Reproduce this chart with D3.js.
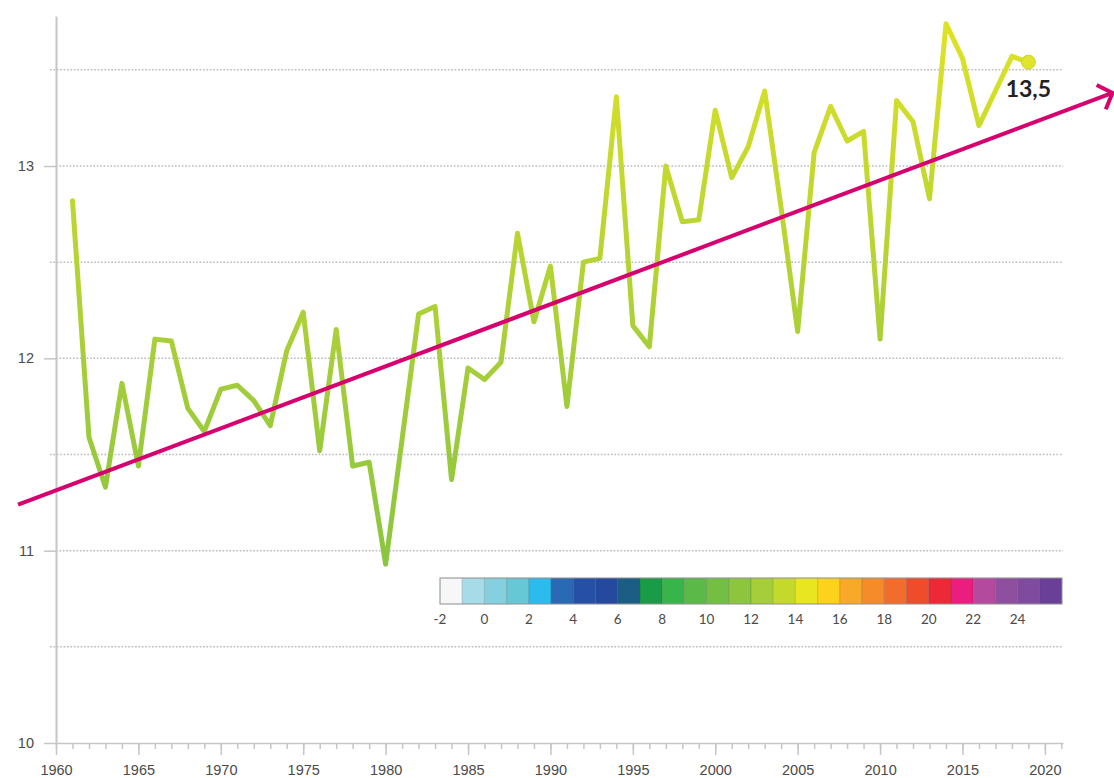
<!DOCTYPE html>
<html>
<head>
<meta charset="utf-8">
<script src="https://cdn.jsdelivr.net/npm/d3@7"></script>
<style>
  body { margin: 0; background: #fff; }
  svg { display: block; font-family: Lato, "Open Sans", sans-serif; }
  .tick text { fill: #4a4a4a; font-size: 14.5px; }
</style>
</head>
<body>
<div id="vis"></div>
<script>
// frame
const FRAME_WIDTH = 1114;
const FRAME_HEIGHT = 778;

// data: annual mean temperature (°C)
const years = [1961,1962,1963,1964,1965,1966,1967,1968,1969,1970,
  1971,1972,1973,1974,1975,1976,1977,1978,1979,1980,
  1981,1982,1983,1984,1985,1986,1987,1988,1989,1990,
  1991,1992,1993,1994,1995,1996,1997,1998,1999,2000,
  2001,2002,2003,2004,2005,2006,2007,2008,2009,2010,
  2011,2012,2013,2014,2015,2016,2017,2018,2019];
const temps = [12.82,11.59,11.33,11.87,11.44,12.10,12.09,11.74,11.62,11.84,
  11.86,11.78,11.65,12.04,12.24,11.52,12.15,11.44,11.46,10.93,
  11.58,12.23,12.27,11.37,11.95,11.89,11.98,12.65,12.19,12.48,
  11.75,12.50,12.52,13.36,12.17,12.06,13.00,12.71,12.72,13.29,
  12.94,13.10,13.39,12.78,12.14,13.07,13.31,13.13,13.18,12.10,
  13.34,13.23,12.83,13.74,13.56,13.21,13.39,13.57,13.54];

// trend arrow (start / end)
const trendYears = [1957.7, 2024.1];
const trendTemps = [11.24, 13.38];

// axis ticks
const yLabelTicks = [10, 11, 12, 13];
const yGridTicks = [10.5, 11, 11.5, 12, 12.5, 13, 13.5];
const xMajorTicks = [1960,1965,1970,1975,1980,1985,1990,1995,2000,2005,2010,2015,2020];
const xMinorTicks = d3.range(1960, 2022);

// colour legend
const legendStarts = [-2,-1,0,1,2,3,4,5,6,7,8,9,10,11,12,13,14,15,16,17,18,19,20,21,22,23,24,25];
const legendColors = ["#f5f7f8","#a6dbe8","#85d0de","#66c7d5","#2bbbec","#2a6ab4","#2650a6",
  "#24499f","#1b5d84","#1a9b48","#38b54a","#5bb947","#72bf44","#8cc63f","#a6ce39","#c5d92d",
  "#e8e621","#fdd21c","#f8a928","#f68b29","#f26d2c","#ef4c2c","#ec2a37","#e91e7f","#b44a9e",
  "#8e4f9f","#7e4b9e","#6a3f97"];
const legendLabels = [-2,0,2,4,6,8,10,12,14,16,18,20,22,24];

const svg = d3.select("#vis").append("svg")
  .attr("width", FRAME_WIDTH)
  .attr("height", FRAME_HEIGHT);

const X_SCALE = d3.scaleLinear().domain([1960, 2021.1]).range([56, 1063]);
const Y_SCALE = d3.scaleLinear().domain([10, 13.78]).range([743, 16]);

const legendColorAt = (v) => legendColors[legendStarts.indexOf(v)];

// gridlines (dotted)
svg.append("g").selectAll("line")
  .data(yGridTicks)
  .enter().append("line")
    .attr("x1", (d) => Number.isInteger(d) ? X_SCALE(1960) : 50)
    .attr("x2", X_SCALE(2021.1))
    .attr("y1", (d) => Y_SCALE(d))
    .attr("y2", (d) => Y_SCALE(d))
    .attr("stroke", "#bdbdbd")
    .attr("stroke-width", 1.5)
    .attr("stroke-dasharray", "1.7,1.7");

// x axis: minor ticks then major ticks with labels
svg.append("g")
  .attr("transform", "translate(0," + Y_SCALE(10) + ")")
  .call(d3.axisBottom(X_SCALE).tickValues(xMinorTicks).tickSize(6).tickSizeOuter(0).tickFormat(""))
  .call((g) => g.selectAll("line, path").attr("stroke", "#c6c6c6").attr("stroke-width", 1.5));

svg.append("g")
  .attr("transform", "translate(0," + Y_SCALE(10) + ")")
  .call(d3.axisBottom(X_SCALE).tickValues(xMajorTicks).tickSize(12).tickPadding(10).tickFormat(d3.format("d")))
  .call((g) => g.select(".domain").remove())
  .call((g) => g.selectAll("line").attr("stroke", "#c6c6c6").attr("stroke-width", 1.5));

// y axis
svg.append("g")
  .attr("transform", "translate(" + X_SCALE(1960) + ",0)")
  .call(d3.axisLeft(Y_SCALE).tickValues(yLabelTicks).tickSize(12).tickSizeOuter(0).tickPadding(10).tickFormat(d3.format("d")))
  .call((g) => g.selectAll("line, path").attr("stroke", "#c6c6c6").attr("stroke-width", 1.5))
  .call((g) => g.select(".domain").attr("stroke-width", 2));

// line colour follows the temperature colour scale
const defs = svg.append("defs");
const gradTemps = [10, 11, 12, 13, 14];
const grad = defs.append("linearGradient")
  .attr("id", "tempGrad")
  .attr("gradientUnits", "userSpaceOnUse")
  .attr("x1", 0).attr("x2", 0)
  .attr("y1", Y_SCALE(10)).attr("y2", Y_SCALE(14));
grad.selectAll("stop")
  .data(gradTemps)
  .enter().append("stop")
    .attr("offset", (d) => (d - 10) / 4)
    .attr("stop-color", (d) => legendColorAt(d));

const series = years.map((y, i) => ({year: y, temp: temps[i]}));

svg.append("path")
  .datum(series)
  .attr("fill", "none")
  .attr("stroke", "url(#tempGrad)")
  .attr("stroke-width", 5)
  .attr("stroke-linejoin", "round")
  .attr("stroke-linecap", "round")
  .attr("d", d3.line().x((d) => X_SCALE(d.year)).y((d) => Y_SCALE(d.temp)));

// trend arrow
defs.append("marker")
  .attr("id", "arrow")
  .attr("markerUnits", "userSpaceOnUse")
  .attr("viewBox", "-20 -20 40 40")
  .attr("markerWidth", 40).attr("markerHeight", 40)
  .attr("refX", 0).attr("refY", 0)
  .attr("orient", "auto")
  .append("path")
    .attr("d", "M-12,-13L0,0L-12,13")
    .attr("fill", "none")
    .attr("stroke", "#d6006f")
    .attr("stroke-width", 4);

const trend = trendYears.map((y, i) => ({year: y, temp: trendTemps[i]}));
svg.append("path")
  .datum(trend)
  .attr("fill", "none")
  .attr("stroke", "#d6006f")
  .attr("stroke-width", 4)
  .attr("marker-end", "url(#arrow)")
  .attr("d", d3.line().x((d) => X_SCALE(d.year)).y((d) => Y_SCALE(d.temp)));

// last point + label
const last = series[series.length - 1];
svg.append("circle")
  .attr("cx", X_SCALE(last.year))
  .attr("cy", Y_SCALE(last.temp))
  .attr("r", 7)
  .attr("fill", "#e0e42c")
  .attr("stroke", "#cdd42a")
  .attr("stroke-width", 1);

svg.append("text")
  .attr("x", X_SCALE(last.year))
  .attr("y", Y_SCALE(last.temp) + 35)
  .attr("text-anchor", "middle")
  .attr("font-size", 23)
  .attr("font-weight", "bold")
  .attr("fill", "#222")
  .text(d3.format(".1f")(last.temp).replace(".", ","));

// colour legend
const L_SCALE = d3.scaleLinear().domain([-2, 26]).range([440, 1062]);
const legend = svg.append("g");
legend.selectAll("rect")
  .data(legendStarts)
  .enter().append("rect")
    .attr("x", (d) => L_SCALE(d))
    .attr("y", 578)
    .attr("width", L_SCALE(1) - L_SCALE(0))
    .attr("height", 26)
    .attr("fill", (d, i) => legendColors[i])
    .attr("stroke", "rgba(0,0,0,0.12)")
    .attr("stroke-width", 1);
legend.append("rect")
  .attr("x", L_SCALE(-2)).attr("y", 578)
  .attr("width", L_SCALE(26) - L_SCALE(-2)).attr("height", 26)
  .attr("fill", "none")
  .attr("stroke", "#9a9a9a")
  .attr("stroke-width", 1);
legend.selectAll("text")
  .data(legendLabels)
  .enter().append("text")
    .attr("x", (d) => L_SCALE(d))
    .attr("y", 624)
    .attr("text-anchor", "middle")
    .attr("font-size", 13.5)
    .attr("fill", "#4a4a4a")
    .text((d) => d);
</script>
</body>
</html>
